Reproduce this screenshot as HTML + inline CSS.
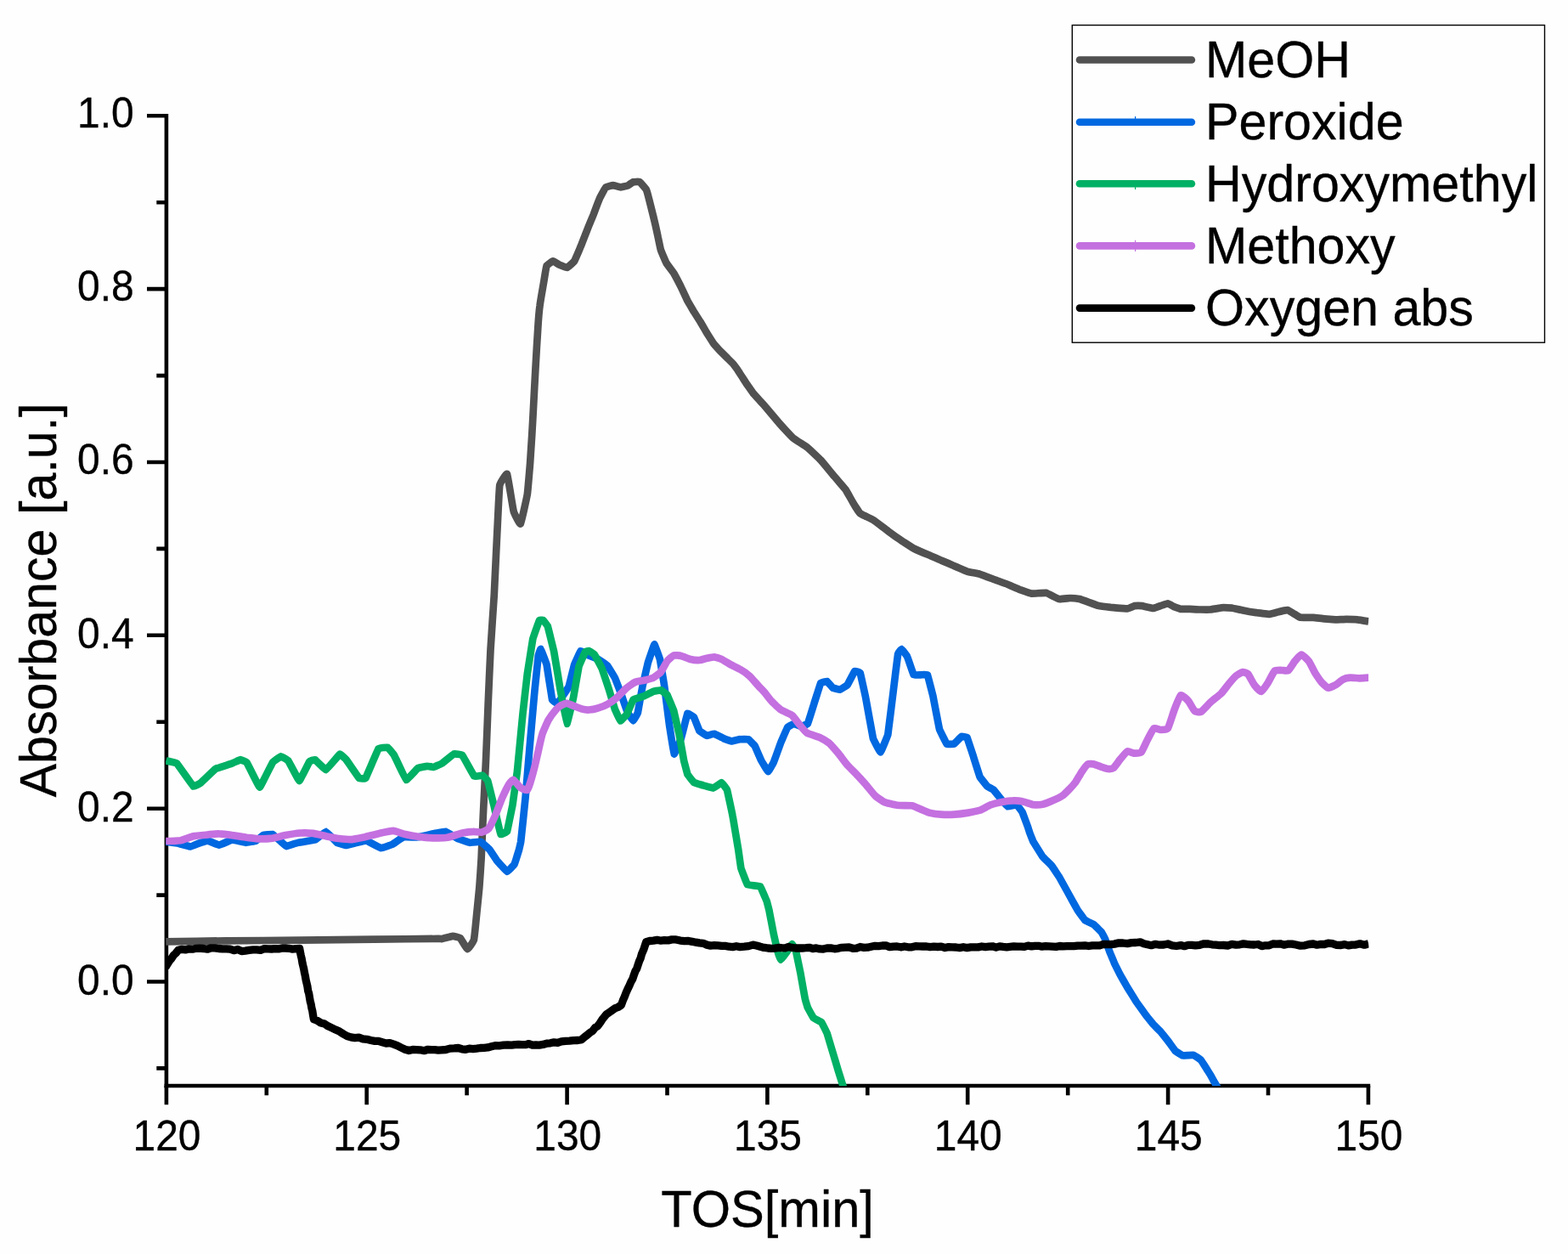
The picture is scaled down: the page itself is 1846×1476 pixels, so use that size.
<!DOCTYPE html>
<html lang="en"><head><meta charset="utf-8"><title>Absorbance vs TOS</title>
<style>
html,body{margin:0;padding:0;background:#fff;}
body{width:1846px;height:1476px;overflow:hidden;}
svg{display:block;}
text{font-family:"Liberation Sans",Arial,Helvetica,sans-serif;fill:#000;stroke:#000;stroke-width:0.35px;}
.tick{font-size:47.9px;}
.ttl{font-size:59.2px;}
.ttlx{font-size:59.6px;}
.leg{font-size:59.2px;}
.c{fill:none;stroke-linejoin:round;stroke-linecap:butt;}
</style></head><body>
<svg role="img" aria-label="Absorbance versus TOS line chart" width="1846" height="1476" viewBox="0 0 1846 1476">
<rect x="0" y="0" width="1846" height="1476" fill="#fefefe"/>
<defs><clipPath id="plot"><rect x="195.1" y="100" width="1416.3" height="1178.3"/></clipPath></defs>
<g stroke="#000" stroke-width="4.6" fill="none" stroke-linecap="butt">
<path d="M195.9 134.0 V1280.3"/>
<path d="M193.6 1278.0 H1613.2"/>
<path d="M195.9 1278.0 v22.2M313.8 1278.0 v11.2M431.7 1278.0 v22.2M549.6 1278.0 v11.2M667.6 1278.0 v22.2M785.5 1278.0 v11.2M903.4 1278.0 v22.2M1021.3 1278.0 v11.2M1139.2 1278.0 v22.2M1257.2 1278.0 v11.2M1375.1 1278.0 v22.2M1493.0 1278.0 v11.2M1610.9 1278.0 v22.2"/>
<path d="M195.9 1155.5 h-22.9M195.9 1053.6 h-11.6M195.9 951.7 h-22.9M195.9 849.7 h-11.6M195.9 747.8 h-22.9M195.9 645.9 h-11.6M195.9 544.0 h-22.9M195.9 442.1 h-11.6M195.9 340.1 h-22.9M195.9 238.2 h-11.6M195.9 136.3 h-22.9M195.9 1257.4 h-11.6"/>
</g>
<text class="tick" text-anchor="middle" transform="translate(196.5 1353.5) scale(1 1.050)">120</text>
<text class="tick" text-anchor="middle" transform="translate(432.3 1353.5) scale(1 1.050)">125</text>
<text class="tick" text-anchor="middle" transform="translate(668.2 1353.5) scale(1 1.050)">130</text>
<text class="tick" text-anchor="middle" transform="translate(904.0 1353.5) scale(1 1.050)">135</text>
<text class="tick" text-anchor="middle" transform="translate(1139.8 1353.5) scale(1 1.050)">140</text>
<text class="tick" text-anchor="middle" transform="translate(1375.7 1353.5) scale(1 1.050)">145</text>
<text class="tick" text-anchor="middle" transform="translate(1611.5 1353.5) scale(1 1.050)">150</text>
<text class="tick" text-anchor="end" transform="translate(157.6 1170.7) scale(1 1.045)">0.0</text>
<text class="tick" text-anchor="end" transform="translate(157.6 966.6) scale(1 1.045)">0.2</text>
<text class="tick" text-anchor="end" transform="translate(157.6 762.5) scale(1 1.045)">0.4</text>
<text class="tick" text-anchor="end" transform="translate(157.6 558.4) scale(1 1.045)">0.6</text>
<text class="tick" text-anchor="end" transform="translate(157.6 354.3) scale(1 1.045)">0.8</text>
<text class="tick" text-anchor="end" transform="translate(157.6 150.2) scale(1 1.045)">1.0</text>
<text class="ttlx" text-anchor="middle" transform="translate(903.6 1443.6) scale(1 1.030)">TOS[min]</text>
<text class="ttl" text-anchor="middle" transform="translate(65.8 706.4) rotate(-90) scale(1 1.020)">Absorbance [a.u.]</text>
<g clip-path="url(#plot)">
<path class="c" stroke="#515151" stroke-width="8.7" d="M195.2 1108.4C198.8 1108.3 258.8 1107.4 266.7 1107.3C274.6 1107.2 344.8 1106.8 353.4 1106.7C362.1 1106.6 432.0 1105.7 440.2 1105.6C448.3 1105.5 512.1 1105.0 516.0 1104.9C520.0 1104.9 519.2 1105.3 520.0 1105.1C520.8 1105.0 531.9 1102.0 533.0 1101.9C534.1 1101.8 540.8 1103.3 541.7 1104.1C542.5 1104.8 549.5 1117.0 550.4 1117.1C551.2 1117.2 557.4 1108.3 557.9 1106.2C558.5 1104.2 560.9 1079.0 561.2 1075.9C561.5 1072.7 564.2 1046.6 564.4 1043.4C564.7 1040.1 566.4 1015.0 566.6 1010.8C566.8 1006.7 568.5 965.9 568.8 960.2C569.1 954.4 571.7 901.6 572.0 895.1C572.3 888.6 574.4 836.6 574.6 830.1C574.9 823.6 577.1 771.5 577.5 765.0C577.8 758.5 581.5 705.6 581.8 700.0C582.1 694.4 583.7 657.9 584.0 653.4C584.2 648.9 585.9 614.2 586.1 610.1C586.3 606.0 587.8 573.7 588.3 571.1C588.8 568.5 596.2 556.5 597.0 558.0C597.8 559.6 603.8 598.5 604.6 601.4C605.3 604.3 612.0 617.6 612.8 616.6C613.6 615.6 620.2 585.5 620.8 581.9C621.4 578.3 623.8 548.5 624.1 545.0C624.3 541.6 626.0 515.8 626.2 512.5C626.4 509.3 627.8 484.1 628.0 480.0C628.2 475.9 630.3 435.6 630.6 431.0C630.8 426.4 632.9 391.2 633.2 387.6C633.4 384.1 635.2 362.3 635.6 359.5C635.9 356.6 639.9 333.6 640.3 331.3C640.7 328.9 643.0 314.0 643.6 312.8C644.1 311.7 650.4 307.5 651.2 307.4C651.9 307.4 657.9 311.4 658.8 311.8C659.6 312.1 666.6 315.2 667.4 315.0C668.3 314.8 675.3 308.7 676.1 307.4C676.9 306.2 682.9 291.9 683.7 290.1C684.4 288.2 690.5 272.5 691.3 270.6C692.0 268.7 698.1 254.0 698.9 252.1C699.6 250.2 705.7 234.2 706.4 232.6C707.2 231.1 712.2 221.4 713.0 220.7C713.7 220.0 720.8 218.1 721.6 218.1C722.5 218.1 729.4 220.2 730.3 220.3C731.2 220.3 738.2 218.8 739.0 218.5C739.7 218.2 744.8 214.4 745.5 214.2C746.2 214.0 752.3 213.8 753.1 214.2C753.8 214.6 760.1 221.9 760.7 222.9C761.2 223.8 763.5 232.1 763.9 233.7C764.3 235.3 768.8 253.1 769.3 255.4C769.9 257.7 774.3 277.3 774.7 279.2C775.2 281.2 777.5 292.9 778.0 294.4C778.5 295.9 783.7 308.2 784.5 309.6C785.3 310.9 792.3 320.1 793.2 321.5C794.0 322.9 801.0 336.2 801.8 337.8C802.7 339.4 808.7 352.6 809.4 354.0C810.2 355.5 816.3 365.8 817.0 367.0C817.8 368.3 823.8 377.7 824.6 379.0C825.4 380.2 831.4 390.7 832.2 392.0C833.0 393.2 839.0 402.9 839.8 403.9C840.5 404.9 846.6 411.7 847.4 412.6C848.2 413.4 855.2 420.4 856.0 421.2C856.9 422.1 862.9 427.9 863.6 428.8C864.4 429.8 870.5 438.5 871.2 439.7C872.0 440.8 878.0 450.5 878.8 451.6C879.6 452.7 885.6 461.4 886.4 462.4C887.2 463.5 894.4 471.4 895.1 472.2C895.7 472.9 898.9 476.2 900.0 477.5C901.1 478.7 915.7 496.2 917.3 498.0C919.0 499.9 932.0 514.0 933.6 515.4C935.2 516.8 948.2 524.9 949.9 526.2C951.5 527.5 964.5 539.7 966.1 541.4C967.8 543.1 980.9 559.2 982.4 560.9C983.8 562.7 994.3 574.6 995.4 576.1C996.5 577.6 1003.2 589.9 1004.1 591.3C1004.9 592.7 1011.5 603.3 1012.7 604.3C1013.9 605.3 1026.3 610.8 1027.9 611.9C1029.5 612.9 1043.6 623.7 1045.3 624.9C1046.9 626.1 1058.9 634.7 1060.4 635.7C1062.0 636.7 1074.0 644.6 1075.6 645.5C1077.2 646.3 1091.3 652.4 1093.0 653.1C1094.6 653.8 1106.6 658.9 1108.1 659.6C1109.6 660.2 1121.8 665.4 1123.3 666.1C1124.8 666.7 1137.0 672.1 1138.5 672.6C1140.0 673.1 1152.0 675.3 1153.7 675.8C1155.3 676.3 1169.4 681.7 1171.0 682.3C1172.6 682.9 1184.7 687.2 1186.2 687.8C1187.7 688.3 1199.9 693.7 1201.4 694.3C1202.8 694.8 1212.8 698.4 1214.4 698.6C1215.9 698.8 1230.1 697.6 1231.7 697.9C1233.3 698.3 1245.5 704.8 1246.9 705.1C1248.3 705.4 1258.8 704.0 1260.0 704.0C1261.2 704.0 1269.8 704.9 1270.8 705.1C1271.9 705.3 1280.6 708.4 1281.7 708.8C1282.8 709.2 1291.2 712.4 1292.5 712.7C1293.8 713.0 1306.0 714.7 1307.7 714.9C1309.4 715.0 1325.8 716.5 1327.2 716.4C1328.6 716.3 1335.0 713.3 1335.9 713.1C1336.7 713.0 1343.5 713.0 1344.6 713.1C1345.6 713.3 1356.5 715.9 1357.6 715.9C1358.6 715.9 1365.4 713.4 1366.2 713.1C1367.1 712.8 1374.1 710.3 1374.9 710.3C1375.7 710.3 1380.7 713.4 1381.4 713.8C1382.2 714.1 1389.1 716.7 1390.1 716.8C1391.1 717.0 1399.8 716.8 1400.9 716.8C1402.0 716.8 1410.6 717.4 1411.8 717.5C1413.0 717.5 1423.5 717.6 1424.8 717.5C1426.1 717.3 1436.5 715.4 1437.8 715.3C1439.1 715.2 1449.5 715.6 1450.8 715.7C1452.1 715.9 1462.4 718.3 1463.8 718.5C1465.2 718.8 1477.5 720.9 1479.0 721.1C1480.5 721.4 1492.8 722.9 1494.1 722.9C1495.4 722.8 1503.9 720.5 1505.0 720.3C1506.1 720.0 1515.0 718.0 1515.8 718.1C1516.7 718.2 1521.6 721.4 1522.3 721.8C1523.1 722.2 1529.8 726.5 1531.0 726.8C1532.2 727.0 1544.8 726.7 1546.2 726.8C1547.6 726.9 1557.9 728.2 1559.2 728.3C1560.5 728.4 1570.9 729.3 1572.2 729.4C1573.5 729.4 1583.9 728.9 1585.2 728.9C1586.5 728.9 1596.9 729.2 1598.2 729.4C1599.5 729.5 1610.6 731.4 1611.2 731.5"/>
<path class="c" stroke="#0068e0" stroke-width="8.7" d="M195.2 990.7C195.5 990.7 209.7 992.7 210.4 992.8C211.0 993.0 223.8 996.6 224.4 996.5C225.1 996.5 235.9 991.9 236.4 991.8C236.8 991.6 244.5 989.5 245.0 989.6C245.5 989.7 257.4 994.6 258.0 994.6C258.7 994.6 272.5 988.6 273.2 988.5C274.0 988.4 288.8 991.7 289.5 991.8C290.1 991.8 300.9 989.8 301.4 989.6C301.9 989.4 309.6 983.3 310.1 983.1C310.5 982.9 320.5 981.9 320.9 982.0C321.4 982.2 329.2 989.3 329.6 989.6C330.0 989.9 336.7 996.0 337.2 996.1C337.7 996.1 350.5 991.9 351.3 991.8C352.1 991.6 370.0 988.8 370.8 988.5C371.5 988.2 383.2 978.7 383.8 978.8C384.4 978.8 396.2 991.4 396.8 991.8C397.4 992.1 407.1 995.0 407.6 995.0C408.2 995.0 420.1 991.9 420.7 991.8C421.2 991.6 430.8 989.4 431.5 989.6C432.1 989.7 448.1 998.2 448.8 998.3C449.5 998.4 461.2 994.2 461.8 993.9C462.4 993.6 474.1 985.5 474.9 985.3C475.6 985.1 491.3 985.4 492.2 985.3C493.1 985.2 510.9 981.1 511.7 980.9C512.5 980.8 524.1 978.6 524.7 978.8C525.4 978.9 539.2 987.1 539.9 987.4C540.5 987.7 552.3 991.7 552.9 991.8C553.5 991.8 565.4 990.5 565.9 990.7C566.5 990.9 575.9 999.5 576.4 1000.0C576.8 1000.5 584.6 1012.4 585.0 1013.0C585.5 1013.6 596.5 1025.9 597.0 1026.0C597.4 1026.1 605.3 1018.0 605.6 1017.3C606.0 1016.7 610.9 1000.6 611.1 1000.0C611.2 999.4 613.0 992.0 613.2 990.5C613.4 989.1 618.4 941.2 618.6 938.5C618.9 935.8 623.8 876.4 624.1 873.4C624.3 870.5 629.3 815.1 629.5 812.7C629.7 810.4 633.7 772.7 633.8 771.5C634.0 770.4 636.4 763.7 636.6 764.0C636.9 764.2 643.3 781.0 643.6 782.4C643.9 783.8 649.8 822.5 650.1 823.6C650.4 824.6 656.1 828.3 656.6 827.9C657.0 827.6 669.1 809.5 669.6 808.4C670.0 807.3 675.8 783.4 676.1 782.4C676.4 781.4 683.3 766.4 683.7 766.1C684.1 765.9 693.0 771.3 693.4 771.5C693.9 771.8 703.8 775.6 704.3 775.9C704.8 776.2 714.7 783.0 715.1 783.5C715.6 784.0 723.4 796.8 723.8 797.6C724.2 798.3 731.0 816.1 731.4 817.1C731.7 818.0 738.6 838.0 739.0 838.8C739.3 839.5 745.2 848.5 745.5 848.5C745.8 848.5 750.6 839.7 750.9 838.8C751.1 837.8 756.0 809.8 756.3 808.4C756.6 807.0 762.5 781.4 762.8 780.2C763.1 779.1 770.1 758.6 770.4 758.5C770.7 758.4 776.6 774.7 776.9 775.9C777.2 777.0 782.1 806.6 782.3 808.4C782.6 810.2 787.5 849.9 787.8 851.8C788.0 853.6 793.3 887.1 793.6 887.5C793.9 887.9 801.5 870.2 801.8 869.1C802.2 868.0 809.1 840.4 809.4 839.8C809.8 839.3 816.7 843.7 817.0 844.2C817.3 844.7 823.2 859.9 823.5 860.4C823.9 860.9 831.8 865.8 832.2 865.9C832.6 865.9 840.4 863.6 840.9 863.7C841.3 863.8 851.2 868.9 851.7 869.1C852.2 869.3 861.0 872.3 861.5 872.4C861.9 872.4 870.8 870.2 871.2 870.2C871.7 870.1 880.6 870.0 881.0 870.2C881.4 870.4 888.2 877.2 888.6 877.8C888.9 878.4 895.8 894.4 896.2 895.1C896.5 895.8 904.0 908.1 904.3 908.1C904.7 908.2 910.5 898.1 910.8 897.3C911.2 896.5 919.1 874.4 919.5 873.4C919.9 872.5 926.7 856.6 927.1 856.1C927.5 855.6 934.3 851.8 934.7 851.8C935.1 851.7 943.0 855.0 943.4 855.0C943.7 855.0 950.6 852.4 950.9 851.8C951.3 851.1 958.2 829.0 958.5 827.9C958.9 826.8 965.8 804.7 966.1 804.1C966.5 803.5 973.4 801.8 973.7 801.9C974.0 802.0 979.9 809.3 980.2 809.5C980.6 809.7 988.5 811.7 988.9 811.7C989.3 811.6 997.2 806.7 997.6 806.2C998.0 805.7 1005.9 790.3 1006.2 790.0C1006.6 789.6 1012.4 791.4 1012.7 792.1C1013.0 792.9 1018.9 819.6 1019.2 821.4C1019.6 823.2 1027.5 867.6 1027.9 869.1C1028.3 870.6 1036.2 885.5 1036.6 885.4C1037.0 885.3 1044.9 866.5 1045.3 864.8C1045.6 863.1 1051.5 815.0 1051.8 812.7C1052.0 810.5 1057.0 770.5 1057.2 769.4C1057.4 768.2 1061.3 763.9 1061.5 764.0C1061.8 764.0 1067.7 771.9 1068.0 772.6C1068.4 773.3 1075.2 793.8 1075.6 794.3C1076.0 794.8 1083.9 794.3 1084.3 794.3C1084.7 794.3 1091.5 793.7 1091.9 794.3C1092.2 794.9 1098.0 817.7 1098.4 819.2C1098.7 820.7 1105.6 857.0 1106.0 858.3C1106.3 859.6 1114.2 875.2 1114.6 875.6C1115.0 876.0 1122.9 875.8 1123.3 875.6C1123.7 875.4 1131.6 867.1 1132.0 866.9C1132.3 866.8 1138.2 867.5 1138.5 868.0C1138.8 868.6 1145.7 889.7 1146.1 890.8C1146.4 891.9 1153.3 913.8 1153.7 914.6C1154.0 915.4 1162.0 925.1 1162.3 925.5C1162.7 925.8 1169.5 929.5 1169.9 929.8C1170.3 930.2 1178.2 940.2 1178.6 940.7C1179.0 941.1 1185.7 949.2 1186.2 949.3C1186.6 949.5 1196.6 947.0 1197.0 947.2C1197.4 947.3 1203.2 955.2 1203.5 955.8C1203.8 956.4 1209.8 972.6 1210.0 973.2C1210.2 973.7 1212.0 979.6 1212.2 980.0C1212.3 980.4 1216.2 990.2 1216.5 990.8C1216.9 991.5 1226.9 1007.5 1227.4 1008.2C1227.9 1008.8 1237.8 1018.5 1238.2 1019.0C1238.7 1019.6 1246.4 1031.3 1246.9 1032.0C1247.3 1032.8 1257.2 1050.6 1257.7 1051.5C1258.2 1052.5 1268.1 1070.3 1268.6 1071.1C1269.0 1071.8 1276.8 1082.6 1277.2 1083.0C1277.7 1083.4 1287.6 1088.1 1288.1 1088.4C1288.5 1088.7 1296.4 1096.7 1296.7 1097.1C1297.1 1097.5 1301.0 1105.2 1301.2 1105.7C1301.4 1106.3 1306.4 1120.3 1306.6 1120.9C1306.9 1121.6 1311.8 1133.3 1312.0 1133.9C1312.3 1134.5 1318.2 1146.3 1318.5 1146.9C1318.9 1147.6 1326.8 1161.4 1327.2 1162.1C1327.7 1162.9 1337.5 1178.7 1338.0 1179.5C1338.6 1180.2 1348.4 1194.0 1348.9 1194.6C1349.3 1195.2 1357.2 1205.0 1357.6 1205.5C1358.0 1205.9 1365.8 1213.7 1366.2 1214.1C1366.6 1214.6 1374.5 1224.5 1374.9 1225.0C1375.3 1225.5 1383.2 1236.5 1383.6 1236.9C1384.0 1237.3 1391.7 1242.2 1392.2 1242.3C1392.8 1242.4 1404.8 1241.8 1405.3 1241.9C1405.8 1242.0 1413.6 1247.3 1413.9 1247.8C1414.3 1248.2 1421.2 1259.1 1421.5 1259.7C1421.9 1260.3 1428.8 1272.1 1429.1 1272.7C1429.5 1273.3 1436.5 1285.4 1436.7 1285.7"/>
<path class="c" stroke="#00b064" stroke-width="8.7" d="M195.2 895.3C195.5 895.4 207.4 897.8 208.2 898.5C208.9 899.2 227.0 925.1 227.7 925.6C228.4 926.2 235.8 921.8 236.4 921.3C237.0 920.8 252.9 905.6 253.7 905.0C254.6 904.5 272.5 898.8 273.2 898.5C273.9 898.3 282.6 894.2 283.0 894.2C283.4 894.2 290.0 896.7 290.6 897.5C291.1 898.2 305.0 926.7 305.7 926.7C306.5 926.7 320.3 898.3 320.9 897.5C321.5 896.6 330.2 890.3 330.7 890.3C331.1 890.2 338.8 894.6 339.3 895.3C339.9 896.0 351.8 919.1 352.4 919.1C352.9 919.2 363.9 897.0 364.3 896.4C364.7 895.8 370.3 894.0 370.8 894.2C371.2 894.4 383.1 906.3 383.8 906.1C384.5 906.0 399.5 888.0 400.1 887.7C400.6 887.4 407.1 893.5 407.6 894.2C408.2 894.9 422.3 915.4 422.8 915.9C423.3 916.4 429.9 916.7 430.4 915.9C430.9 915.1 445.0 882.0 445.6 881.2C446.2 880.3 456.0 879.5 456.4 879.7C456.9 879.9 463.5 887.9 464.0 888.8C464.5 889.7 477.4 917.7 478.1 918.0C478.8 918.4 491.6 904.3 492.2 904.0C492.8 903.6 502.6 901.8 503.0 901.8C503.5 901.8 510.2 902.9 510.6 902.9C511.0 902.8 519.8 898.9 520.4 898.5C520.9 898.2 533.9 887.5 534.5 887.3C535.0 887.0 543.7 888.2 544.2 888.8C544.8 889.4 557.8 913.2 558.3 913.7C558.9 914.3 567.7 912.5 568.1 912.6C568.4 912.8 573.9 918.1 574.2 919.0C574.5 919.8 581.4 947.9 581.8 949.3C582.1 950.8 589.0 981.2 589.4 981.8C589.7 982.5 596.6 979.4 597.0 978.6C597.3 977.8 603.2 948.8 603.5 947.2C603.7 945.5 608.6 910.6 608.9 908.1C609.2 905.7 615.1 843.6 615.4 840.9C615.7 838.2 620.5 795.3 620.8 793.2C621.1 791.2 627.0 753.5 627.3 752.0C627.6 750.6 634.6 730.9 634.9 730.4C635.2 729.8 639.0 729.8 639.2 729.9C639.5 730.1 644.4 736.0 644.7 736.9C645.0 737.7 651.9 765.4 652.2 767.2C652.6 769.0 659.5 810.8 659.8 812.7C660.2 814.7 667.1 851.6 667.4 851.8C667.8 852.0 674.7 823.0 675.0 821.4C675.3 819.8 681.2 785.8 681.5 784.6C681.8 783.3 688.8 767.6 689.1 767.2C689.4 766.8 693.2 766.0 693.4 766.1C693.7 766.2 699.6 770.0 699.9 770.5C700.3 770.9 708.2 785.7 708.6 786.7C709.0 787.7 716.9 811.6 717.3 812.7C717.6 813.9 723.5 833.6 723.8 834.4C724.1 835.3 730.0 848.4 730.3 848.5C730.6 848.7 737.5 841.5 737.9 840.9C738.2 840.3 745.0 824.1 745.5 823.6C746.0 823.1 757.9 819.5 758.5 819.2C759.0 819.0 768.9 814.0 769.3 813.8C769.8 813.7 777.6 812.2 778.0 812.3C778.4 812.4 785.2 817.6 785.6 818.2C785.9 818.7 792.8 835.5 793.2 836.6C793.5 837.7 799.4 863.4 799.7 864.8C800.0 866.1 804.9 894.0 805.1 895.1C805.3 896.2 809.2 910.8 809.4 911.4C809.7 912.0 816.6 920.8 817.0 921.1C817.4 921.4 827.3 924.2 827.9 924.4C828.4 924.5 839.3 927.7 839.8 927.6C840.3 927.6 849.2 921.1 849.5 921.1C849.9 921.2 855.7 928.9 856.0 929.8C856.3 930.7 862.2 958.5 862.5 960.2C862.9 961.8 868.8 997.8 869.1 999.2C869.3 1000.6 872.1 1020.7 872.3 1021.7C872.6 1022.7 879.4 1040.7 879.9 1041.2C880.4 1041.7 894.5 1042.9 895.1 1043.4C895.6 1043.8 902.4 1060.1 902.7 1060.7C902.9 1061.4 905.2 1070.2 905.4 1071.1C905.6 1072.0 910.6 1098.1 910.8 1099.2C911.1 1100.4 915.0 1118.0 915.2 1118.8C915.4 1119.5 918.8 1129.5 919.1 1129.6C919.3 1129.6 925.7 1121.4 926.0 1120.9C926.3 1120.5 932.3 1111.2 932.5 1111.2C932.8 1111.1 936.6 1118.0 936.9 1118.8C937.1 1119.5 942.0 1143.5 942.3 1144.8C942.5 1146.1 947.5 1174.2 947.7 1175.1C947.9 1176.1 950.7 1185.4 950.9 1186.0C951.2 1186.5 957.1 1197.5 957.5 1197.9C957.8 1198.3 966.8 1202.9 967.2 1203.3C967.6 1203.7 973.4 1215.5 973.7 1216.3C974.0 1217.1 979.9 1237.0 980.2 1238.0C980.5 1239.0 986.4 1258.8 986.7 1259.7C987.0 1260.6 991.9 1276.3 992.1 1277.0C992.4 1277.8 996.4 1291.8 996.5 1292.2"/>
<path class="c" stroke="#c470e0" stroke-width="8.7" d="M195.2 990.0C196.6 990.0 209.9 989.6 212.5 989.2C215.1 988.7 225.3 984.7 227.7 984.2C230.1 983.7 240.4 982.9 242.9 982.7C245.3 982.4 255.6 981.3 258.0 981.4C260.5 981.4 270.6 982.7 273.2 983.1C275.8 983.4 288.0 985.3 290.6 985.7C293.2 986.0 303.3 987.4 305.7 987.4C308.2 987.5 318.5 986.9 320.9 986.6C323.3 986.2 333.5 983.6 336.1 983.1C338.7 982.6 350.8 980.7 353.4 980.5C356.0 980.3 366.2 980.6 368.6 980.9C371.0 981.2 381.4 983.7 383.8 984.2C386.2 984.7 396.5 986.7 399.0 987.0C401.4 987.3 411.7 988.2 414.1 988.1C416.6 987.9 426.7 985.8 429.3 985.3C431.9 984.7 444.0 981.5 446.7 980.9C449.4 980.3 460.5 977.8 462.9 977.9C465.4 978.0 474.7 981.5 477.0 982.0C479.4 982.6 489.6 984.5 492.2 984.8C494.8 985.2 506.8 986.3 509.5 986.3C512.3 986.4 524.1 986.2 526.9 985.7C529.7 985.2 541.8 981.0 544.2 980.5C546.7 979.9 555.4 978.8 557.2 978.8C559.0 978.7 565.2 979.9 566.6 979.7C568.1 979.4 574.0 976.9 575.3 975.3C576.6 973.8 581.6 963.1 582.9 960.2C584.2 957.2 590.2 941.4 591.5 938.5C592.8 935.5 598.1 925.0 599.1 923.3C600.2 921.7 603.5 917.6 604.6 917.9C605.6 918.1 610.8 925.6 612.1 926.6C613.4 927.5 619.7 930.8 620.8 929.8C621.9 928.9 625.3 917.9 626.2 914.6C627.2 911.3 631.8 892.6 632.7 888.6C633.7 884.6 637.1 868.1 638.2 864.8C639.2 861.5 644.4 849.8 645.7 847.4C647.0 845.1 653.2 836.9 654.4 835.5C655.6 834.1 659.9 830.7 660.9 830.1C662.0 829.5 666.2 827.8 667.4 827.9C668.6 828.0 674.7 830.6 676.1 831.2C677.5 831.7 683.4 834.1 684.8 834.4C686.2 834.8 691.9 835.6 693.4 835.5C695.0 835.4 702.5 833.9 704.3 833.3C706.0 832.8 713.4 830.0 715.1 829.0C716.9 828.0 724.2 822.9 726.0 821.4C727.7 819.9 735.1 812.0 736.8 810.6C738.5 809.1 745.9 803.8 747.6 803.0C749.4 802.2 756.7 801.2 758.5 800.8C760.2 800.4 767.8 798.3 769.3 797.6C770.9 796.8 776.7 792.6 778.0 791.1C779.3 789.5 784.4 779.6 785.6 778.0C786.8 776.5 791.9 772.0 793.2 771.5C794.5 771.1 800.3 771.6 801.8 772.0C803.4 772.3 810.9 775.5 812.7 775.9C814.4 776.3 822.0 777.1 823.5 777.0C825.1 776.9 830.8 775.1 832.2 774.8C833.6 774.5 839.5 773.2 840.9 773.3C842.3 773.4 848.0 775.2 849.5 775.9C851.1 776.6 858.6 781.4 860.4 782.4C862.1 783.3 869.5 786.8 871.2 787.8C873.0 788.8 880.3 793.8 882.1 795.4C883.8 797.0 891.5 805.8 892.9 807.3C894.3 808.9 898.7 813.4 900.0 814.9C901.3 816.4 907.1 824.1 908.7 825.7C910.2 827.4 917.6 834.2 919.5 835.5C921.4 836.8 930.8 840.6 932.5 842.0C934.3 843.4 939.8 851.2 941.2 852.8C942.6 854.5 948.0 861.4 949.9 862.6C951.8 863.8 963.0 867.1 965.0 868.0C967.1 869.0 974.1 873.1 975.9 874.5C977.6 876.0 985.0 884.4 986.7 886.4C988.5 888.5 995.8 898.5 997.6 900.5C999.3 902.5 1006.7 909.6 1008.4 911.4C1010.1 913.2 1017.5 921.3 1019.2 923.3C1021.0 925.3 1028.3 934.7 1030.1 936.3C1031.8 938.0 1038.8 943.0 1040.9 943.9C1043.0 944.8 1053.5 947.5 1056.1 947.8C1058.7 948.2 1071.2 947.9 1073.4 948.2C1075.7 948.6 1082.5 951.9 1084.3 952.6C1086.0 953.3 1093.2 956.4 1095.1 956.9C1097.0 957.4 1105.9 958.5 1108.1 958.6C1110.4 958.8 1120.9 958.8 1123.3 958.6C1125.7 958.5 1136.1 957.3 1138.5 956.9C1140.9 956.5 1151.4 954.4 1153.7 953.7C1155.9 952.9 1164.6 947.9 1166.7 947.2C1168.7 946.4 1177.6 944.3 1179.7 943.9C1181.8 943.5 1190.8 942.4 1192.7 942.4C1194.6 942.3 1201.6 942.9 1203.5 943.3C1205.4 943.6 1214.6 946.9 1216.5 947.2C1218.4 947.4 1225.6 947.1 1227.4 946.7C1229.1 946.4 1236.3 943.7 1238.2 942.8C1240.1 942.0 1249.5 937.5 1251.2 936.3C1253.0 935.1 1258.8 929.0 1260.0 927.8C1261.2 926.5 1265.5 921.6 1266.5 920.2C1267.5 918.7 1271.9 911.0 1273.0 909.3C1274.1 907.7 1279.4 900.3 1280.6 899.6C1281.8 898.8 1286.9 899.3 1288.2 899.6C1289.5 899.8 1295.6 902.4 1296.9 902.8C1298.2 903.3 1303.3 904.9 1304.4 905.0C1305.6 905.1 1309.8 904.8 1310.9 903.9C1312.1 903.0 1317.2 895.7 1318.5 894.1C1319.8 892.6 1325.9 885.0 1327.2 884.4C1328.5 883.8 1333.5 886.5 1334.8 886.6C1336.1 886.6 1342.2 886.8 1343.5 885.5C1344.8 884.2 1349.8 872.6 1351.1 870.3C1352.3 868.0 1357.4 858.2 1358.6 857.3C1359.9 856.4 1364.9 859.0 1366.2 859.0C1367.5 859.0 1373.6 859.2 1374.9 857.3C1376.2 855.4 1381.3 838.7 1382.5 835.6C1383.7 832.5 1388.8 819.1 1390.1 818.3C1391.4 817.4 1397.5 823.3 1398.8 824.8C1400.1 826.2 1405.1 835.7 1406.3 836.7C1407.6 837.7 1412.5 838.6 1413.9 837.8C1415.4 837.0 1422.9 828.7 1424.8 826.9C1426.7 825.2 1436.0 817.8 1437.8 816.1C1439.5 814.4 1445.1 806.9 1446.4 805.3C1447.8 803.6 1453.8 796.6 1455.1 795.5C1456.4 794.4 1461.6 791.3 1462.7 791.2C1463.8 791.0 1468.1 792.1 1469.2 793.3C1470.3 794.5 1475.5 804.7 1476.8 806.3C1478.1 808.0 1483.7 814.2 1485.0 813.9C1486.3 813.7 1491.8 805.0 1493.1 803.1C1494.3 801.1 1499.3 790.8 1500.7 789.6C1502.0 788.5 1508.0 789.0 1509.3 789.0C1510.6 788.9 1515.7 789.9 1516.9 789.0C1518.1 788.1 1523.3 779.6 1524.5 778.2C1525.7 776.7 1530.8 770.6 1532.1 770.6C1533.4 770.6 1539.5 776.4 1540.8 778.2C1542.1 779.9 1547.1 790.3 1548.3 792.2C1549.6 794.2 1554.7 801.7 1555.9 803.1C1557.1 804.5 1562.2 809.3 1563.5 809.6C1564.8 809.9 1570.8 807.1 1572.2 806.3C1573.6 805.6 1579.5 800.5 1580.9 799.8C1582.3 799.1 1588.0 797.8 1589.5 797.7C1591.1 797.5 1598.6 798.3 1600.4 798.3C1602.1 798.3 1610.4 797.7 1611.2 797.7"/>
<path class="c" stroke="#000000" stroke-width="9.3" d="M194.8 1138.6L197.0 1134.9L199.3 1131.3L201.5 1128.8L204.3 1124.4L207.1 1121.9L209.9 1118.2L214.1 1117.4L218.3 1117.9L222.5 1116.8L226.7 1117.2L230.9 1116.3L235.1 1116.1L239.6 1116.5L244.1 1117.2L248.5 1115.8L253.0 1115.8L257.5 1116.5L262.0 1116.9L266.4 1116.8L270.9 1117.1L275.4 1118.7L279.9 1117.5L284.4 1119.6L288.8 1119.1L293.3 1118.4L297.8 1117.9L302.3 1117.8L306.8 1118.3L311.2 1116.7L315.7 1116.9L319.8 1117.0L323.9 1116.6L328.0 1116.9L332.1 1116.0L336.2 1116.0L340.3 1116.3L344.4 1117.1L348.5 1116.7L352.7 1116.5L353.5 1121.0L354.3 1124.8L355.2 1128.5L356.0 1133.4L356.9 1137.3L357.7 1140.5L358.5 1145.1L359.4 1149.1L360.2 1153.7L361.1 1157.5L361.9 1160.9L362.7 1166.4L363.6 1169.0L364.4 1173.7L365.2 1178.6L366.1 1181.7L366.9 1186.5L367.8 1189.9L368.6 1195.2L369.4 1199.6L373.6 1201.3L377.8 1204.0L382.0 1205.0L386.2 1207.8L390.7 1209.9L395.2 1212.1L399.7 1214.1L404.2 1217.0L408.6 1219.5L413.1 1220.9L417.8 1221.7L422.5 1221.2L427.2 1222.9L431.9 1223.3L436.6 1224.5L441.1 1225.3L445.6 1225.4L450.1 1226.8L454.5 1228.0L459.0 1227.7L463.5 1229.2L468.0 1230.9L472.4 1233.1L476.9 1235.2L481.4 1236.5L485.9 1235.4L490.4 1235.6L494.8 1235.8L499.3 1236.7L503.8 1235.3L507.8 1235.7L511.9 1235.7L515.9 1236.1L520.0 1235.8L524.9 1235.5L529.8 1234.1L534.6 1233.9L539.5 1233.5L543.8 1234.8L548.2 1235.3L552.5 1234.2L556.9 1234.6L561.2 1234.1L565.5 1233.5L569.9 1233.4L574.2 1232.9L578.5 1231.7L582.9 1230.7L587.8 1230.9L592.6 1230.2L597.5 1230.0L602.4 1230.2L606.4 1229.7L610.5 1229.4L614.6 1229.6L618.6 1229.7L622.7 1228.6L626.8 1230.1L630.8 1229.9L634.9 1230.1L639.2 1229.4L643.6 1228.2L647.9 1227.8L652.2 1226.8L656.6 1227.3L660.9 1225.8L665.7 1225.3L670.5 1225.2L675.2 1224.6L680.0 1224.5L684.8 1223.6L688.0 1220.8L691.3 1218.3L694.5 1215.5L697.8 1213.3L700.7 1209.4L703.6 1207.7L706.4 1204.0L709.0 1199.9L711.5 1196.8L714.0 1193.8L718.9 1190.5L723.8 1186.9L727.6 1185.5L731.4 1183.0L733.3 1177.7L735.2 1173.4L737.1 1168.4L739.0 1164.1L740.9 1160.2L742.8 1155.7L744.7 1152.4L746.6 1146.8L748.1 1142.7L749.6 1140.4L751.1 1135.8L752.6 1131.2L754.1 1128.0L755.4 1123.2L756.7 1120.2L758.0 1117.1L759.3 1113.0L760.7 1108.8L765.0 1107.5L769.3 1107.1L773.7 1106.3L778.0 1107.2L782.3 1106.6L786.7 1106.9L791.0 1105.9L795.9 1105.9L800.8 1107.1L805.6 1107.6L810.5 1107.5L814.9 1108.3L819.2 1109.2L823.5 1109.9L827.9 1110.3L832.2 1112.1L836.5 1113.1L840.9 1112.6L845.2 1112.8L849.5 1113.3L853.9 1113.4L858.2 1114.2L862.5 1114.6L866.9 1113.7L871.2 1114.6L876.3 1114.2L881.3 1113.6L886.4 1112.1L890.7 1113.0L895.1 1114.3L899.4 1115.4L900.0 1115.4L904.1 1116.0L908.1 1116.4L912.2 1116.2L916.3 1115.5L920.3 1115.7L924.4 1115.8L928.5 1114.4L932.5 1115.4L936.6 1116.0L940.7 1115.9L944.7 1116.0L948.8 1115.7L952.8 1115.3L956.9 1116.6L961.0 1115.9L965.0 1116.9L969.4 1117.1L973.7 1116.0L978.0 1115.9L982.4 1116.8L986.7 1116.3L991.1 1115.3L995.4 1115.1L999.7 1115.0L1004.1 1116.3L1008.4 1116.1L1012.7 1114.5L1017.1 1115.3L1021.4 1115.2L1025.7 1114.2L1030.1 1113.3L1034.4 1113.7L1038.8 1113.0L1043.1 1112.9L1047.4 1114.7L1051.8 1114.1L1056.1 1114.0L1060.4 1114.8L1064.8 1114.0L1069.1 1114.8L1073.4 1114.8L1077.8 1113.7L1082.1 1113.9L1086.4 1114.0L1090.8 1114.0L1095.1 1114.7L1099.5 1114.2L1103.8 1114.5L1108.1 1114.1L1112.5 1115.5L1116.8 1114.6L1121.1 1114.8L1125.5 1115.0L1129.8 1115.6L1134.1 1114.7L1138.5 1115.6L1142.8 1114.9L1147.2 1114.9L1151.5 1114.9L1155.8 1114.0L1160.2 1114.7L1164.3 1114.2L1168.5 1113.8L1172.7 1115.1L1176.8 1113.9L1181.0 1114.4L1185.2 1114.8L1189.3 1114.4L1193.5 1113.9L1197.7 1114.1L1201.9 1114.1L1206.0 1114.4L1210.2 1113.1L1214.4 1113.9L1218.5 1113.3L1222.7 1113.3L1226.8 1114.2L1231.0 1113.7L1235.1 1113.8L1239.3 1114.1L1243.4 1114.4L1247.6 1113.5L1251.7 1113.8L1255.9 1113.6L1260.0 1113.6L1264.3 1113.7L1268.7 1113.1L1273.0 1113.1L1277.3 1112.8L1281.7 1113.5L1286.0 1112.8L1290.4 1112.9L1294.7 1112.8L1299.0 1111.4L1303.4 1111.5L1307.7 1111.7L1312.0 1111.1L1317.1 1109.9L1322.1 1110.0L1327.2 1110.6L1332.3 1109.6L1337.3 1109.5L1342.4 1108.9L1346.7 1110.7L1351.1 1111.7L1355.4 1112.7L1360.3 1111.3L1365.1 1112.2L1370.0 1112.0L1374.9 1111.0L1380.0 1112.8L1385.0 1113.5L1390.1 1112.6L1394.4 1113.7L1398.8 1112.4L1403.1 1112.3L1407.4 1112.9L1412.5 1112.3L1417.5 1110.8L1422.6 1111.0L1426.9 1111.8L1431.3 1112.2L1435.6 1112.6L1440.5 1112.5L1445.4 1113.0L1450.2 1111.4L1455.1 1112.1L1459.5 1111.8L1463.8 1110.9L1468.1 1111.4L1472.5 1111.8L1476.8 1112.0L1481.1 1111.5L1485.5 1113.6L1489.8 1112.8L1494.1 1112.8L1498.5 1110.9L1502.8 1111.2L1507.2 1110.8L1511.5 1112.1L1515.8 1111.2L1520.9 1111.2L1525.9 1112.0L1531.0 1113.2L1536.1 1112.8L1541.1 1111.5L1546.2 1111.0L1550.5 1112.2L1554.9 1111.4L1559.2 1111.5L1563.5 1110.2L1568.6 1110.7L1573.6 1112.4L1578.7 1112.5L1583.0 1111.6L1587.4 1112.9L1591.7 1112.1L1596.0 1112.1L1601.1 1110.8L1606.2 1112.2L1611.2 1110.8"/>
</g>
<rect x="1262.3" y="29.6" width="556.2" height="373.6" fill="#fefefe" stroke="#000" stroke-width="1.4"/>
<path d="M1271 70.5 H1402.9" stroke="#515151" stroke-width="8.6" stroke-linecap="round" fill="none"/>
<text class="leg" text-anchor="start" transform="translate(1419.0 90.9) scale(1 1.030)">MeOH</text>
<path d="M1271 143.7 H1402.9" stroke="#0068e0" stroke-width="8.6" stroke-linecap="round" fill="none"/>
<path d="M1336.6 140.1 v-3" stroke="#0068e0" stroke-width="1.2" fill="none"/>
<text class="leg" text-anchor="start" transform="translate(1419.0 164.1) scale(1 1.030)">Peroxide</text>
<path d="M1271 216.3 H1402.9" stroke="#00b064" stroke-width="8.6" stroke-linecap="round" fill="none"/>
<path d="M1336.6 219.9 v3" stroke="#00b064" stroke-width="1.2" fill="none"/>
<text class="leg" text-anchor="start" transform="translate(1419.0 236.7) scale(1 1.030)">Hydroxymethyl</text>
<path d="M1271 289.4 H1402.9" stroke="#c470e0" stroke-width="8.6" stroke-linecap="round" fill="none"/>
<path d="M1336.6 285.8 v-3" stroke="#c470e0" stroke-width="1.2" fill="none"/>
<path d="M1336.6 293.0 v3" stroke="#c470e0" stroke-width="1.2" fill="none"/>
<text class="leg" text-anchor="start" transform="translate(1419.0 309.8) scale(1 1.030)">Methoxy</text>
<path d="M1271 362.6 H1402.9" stroke="#000000" stroke-width="8.6" stroke-linecap="round" fill="none"/>
<text class="leg" text-anchor="start" transform="translate(1419.0 383.0) scale(1 1.030)">Oxygen abs</text>
</svg>
</body></html>
